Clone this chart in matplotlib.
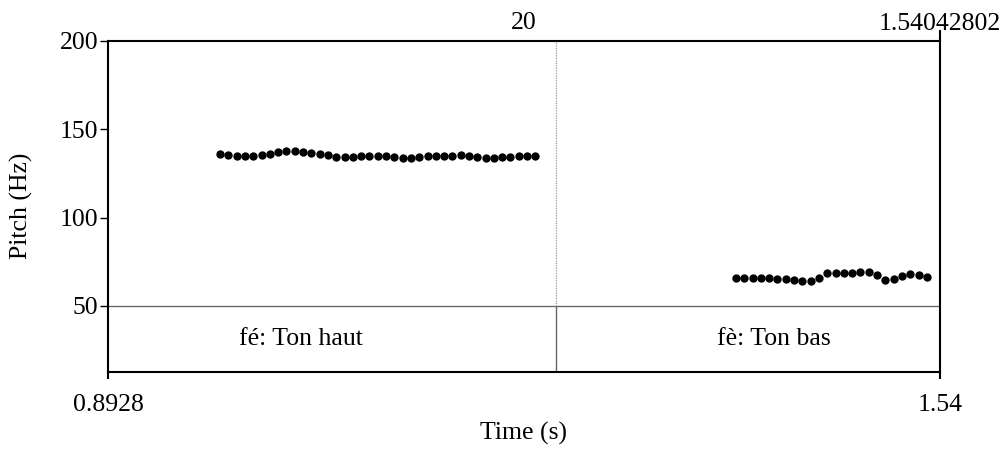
import numpy as np
import matplotlib.pyplot as plt

plt.rcParams['font.family'] = ['Liberation Serif', 'DejaVu Serif']

# view window (s) and pitch range (Hz)
t_min, t_max = 0.8928, 1.54042802
f_min, f_max = 50, 200
f_tier = 12.6  # bottom of the tier strip, in Hz units of the axis

# pitch track, syllable 1 (fé, high tone)
t_high = [0.9800, 0.9865, 0.9929, 0.9994, 1.0058, 1.0123, 1.0188, 1.0252, 1.0317, 1.0381,
          1.0446, 1.0511, 1.0575, 1.0640, 1.0704, 1.0769, 1.0834, 1.0898, 1.0963, 1.1027,
          1.1092, 1.1157, 1.1221, 1.1286, 1.1350, 1.1415, 1.1480, 1.1544, 1.1609, 1.1673,
          1.1738, 1.1803, 1.1867, 1.1932, 1.1996, 1.2061, 1.2126, 1.2190, 1.2255]
f_high = [136.0, 135.2, 134.8, 134.7, 134.8, 135.2, 136.2, 136.9, 137.5, 137.7,
          137.3, 136.7, 136.0, 135.2, 134.5, 134.3, 134.5, 134.7, 134.8, 135.0,
          134.8, 134.1, 133.5, 133.9, 134.3, 134.7, 134.8, 135.0, 135.0, 135.2,
          134.8, 134.1, 133.5, 133.5, 134.1, 134.5, 134.7, 134.7, 134.7]

# pitch track, syllable 2 (fè, low tone)
t_low = [1.3816, 1.3881, 1.3945, 1.4010, 1.4074, 1.4139, 1.4204, 1.4268, 1.4333, 1.4397,
         1.4462, 1.4527, 1.4591, 1.4656, 1.4720, 1.4785, 1.4850, 1.4914, 1.4979, 1.5043,
         1.5108, 1.5173, 1.5237, 1.5302]
f_low = [65.6, 65.7, 65.7, 65.7, 65.6, 65.3, 65.2, 64.8, 64.2, 64.0,
         66.1, 68.4, 68.7, 68.7, 68.7, 69.3, 69.0, 67.3, 64.8, 65.2,
         67.0, 68.0, 67.6, 66.5]

# text grid tier
boundary = 1.2415
tier_labels = ['fé: Ton haut', 'fè: Ton bas']
tier_label_t = [1.0430, 1.4112]

fs = 18.5
fig = plt.figure(figsize=(10.07, 4.5), dpi=100)
ax = fig.add_axes([108 / 1007, 78 / 450, 832 / 1007, 331 / 450])

ax.plot(t_high, f_high, 'o', color='black', markersize=6, markeredgewidth=0)
ax.plot(t_low, f_low, 'o', color='black', markersize=6, markeredgewidth=0)

# tier separator and interval boundary
ax.axhline(f_min, color='#666666', lw=1.0)
ax.vlines(boundary, f_tier, f_min, color='#666666', lw=1.0)
ax.vlines(boundary, f_min, f_max, color='#999999', lw=0.9, linestyles=(0, (1, 1)))
for lab, t in zip(tier_labels, tier_label_t):
    ax.text(t, (f_min + f_tier) / 2, lab, ha='center', va='center', fontsize=fs)

ax.set_xlim(t_min, t_max)
ax.set_ylim(f_tier, f_max)

for sp in ax.spines.values():
    sp.set_linewidth(1.5)

ax.set_yticks([50, 100, 150, 200])
ax.set_yticklabels(['50', '100', '150', '200'])
ax.tick_params(axis='y', direction='out', length=6, width=1, pad=1, labelsize=fs)

ax.set_xticks([t_min, t_max])
ax.set_xticklabels(['0.8928', '1.54'])
ax.tick_params(axis='x', direction='out', length=5, width=1.5, pad=11, labelsize=fs)

top = ax.secondary_xaxis('top')
top.set_xticks([t_max])
top.set_xticklabels(['1.54042802'])
top.tick_params(direction='out', length=8, width=1.5, pad=-4, labelsize=fs)
top.spines['top'].set_visible(False)

ax.annotate('20', xy=(0.5, 1.0), xycoords='axes fraction', xytext=(0, 5),
            textcoords='offset points', ha='center', va='bottom', fontsize=fs)

fig.text(524 / 1007, 1 - 433 / 450, 'Time (s)', ha='center', va='center', fontsize=fs)
fig.text(21 / 1007, 1 - 206 / 450, 'Pitch (Hz)', ha='center', va='center',
         rotation=90, fontsize=fs)

fig.savefig('out.png', dpi=100)
